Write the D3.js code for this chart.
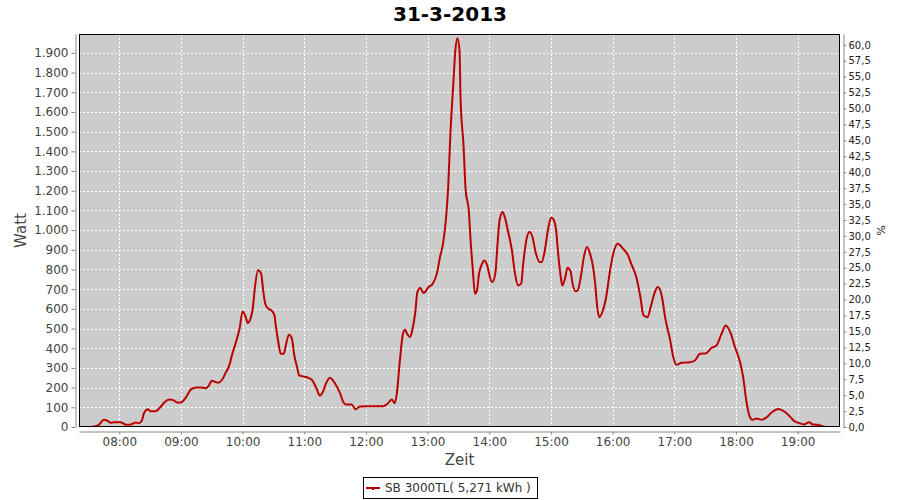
<!DOCTYPE html>
<html>
<head>
<meta charset="utf-8">
<script src="https://cdn.jsdelivr.net/npm/d3@7"></script>
<style>
  body { margin: 0; background: #fff; }
  text { font-family: "DejaVu Sans", sans-serif; }
</style>
</head>
<body>
<div id="chart"></div>
<script>
// chart texts
const title = "31-3-2013";
const legendLabel = "SB 3000TL( 5,271 kWh )";

// measured time (HH:MM) and power (W)
const times = ["07:33","07:40","07:45","07:48","07:52","07:54","08:01","08:04","08:07","08:10",
  "08:14","08:16","08:19","08:22","08:24","08:28","08:30","08:35","08:40","08:44",
  "08:49","08:53","08:56","09:00","09:05","09:10","09:15","09:19","09:24","09:27",
  "09:30","09:33","09:36","09:40","09:43","09:47","09:50","09:54","09:57","10:00",
  "10:03","10:05","10:07","10:10","10:12","10:15","10:18","10:20","10:22","10:25",
  "10:28","10:31","10:32","10:35","10:37","10:40","10:42","10:45","10:48","10:50",
  "10:53","10:55","10:59","11:04","11:08","11:12","11:15","11:18","11:21","11:25",
  "11:28","11:32","11:35","11:38","11:41","11:46","11:50","11:54","12:01","12:17",
  "12:21","12:25","12:28","12:30","12:33","12:36","12:38","12:40","12:43","12:45",
  "12:48","12:50","12:53","12:56","13:01","13:05","13:09","13:12","13:15","13:18",
  "13:20","13:22","13:25","13:27","13:29","13:31","13:32","13:35","13:37","13:40",
  "13:42","13:44","13:46","13:48","13:50","13:53","13:55","13:58","14:01","14:03",
  "14:06","14:08","14:10","14:13","14:15","14:18","14:22","14:25","14:28","14:31",
  "14:33","14:36","14:39","14:42","14:45","14:49","14:51","14:54","14:57","15:00",
  "15:02","15:05","15:07","15:10","15:11","15:14","15:16","15:19","15:21","15:24",
  "15:26","15:29","15:32","15:35","15:38","15:41","15:43","15:45","15:47","15:50",
  "15:54","15:57","16:01","16:05","16:10","16:15","16:18","16:23","16:27","16:30",
  "16:34","16:37","16:41","16:44","16:48","16:51","16:56","16:59","17:02","17:07",
  "17:15","17:20","17:25","17:31","17:36","17:41","17:46","17:50","17:55","17:59",
  "18:04","18:07","18:10","18:13","18:16","18:20","18:25","18:30","18:35","18:41",
  "18:48","18:53","18:57","19:02","19:06","19:11","19:15","19:20","19:24","19:27"];
const watts = [0,11,37,33,21,24,24,18,11,11,
  19,23,19,33,70,90,80,80,101,126,
  140,135,125,125,152,192,201,201,197,209,
  235,230,225,240,270,313,372,440,499,587,
  558,528,541,609,711,796,779,694,626,601,
  592,567,525,423,372,372,414,469,448,372,
  304,262,257,250,236,194,160,177,220,250,
  236,202,169,126,114,114,90,104,106,106,
  118,140,121,169,338,474,494,474,457,491,
  584,685,706,680,711,728,779,863,931,1067,
  1219,1473,1745,1914,1974,1914,1677,1422,1202,1101,
  931,796,677,694,779,830,846,821,753,736,
  787,931,1050,1092,1067,999,897,779,719,728,
  830,948,990,965,889,838,838,897,999,1063,
  1058,999,880,745,719,762,809,792,728,689,
  694,762,863,914,880,812,728,609,558,584,
  669,779,889,931,906,872,830,762,660,567,
  558,609,685,711,660,558,440,355,316,326,
  329,338,372,375,401,414,474,516,474,406,
  329,253,135,58,37,43,37,50,75,92,
  75,50,29,19,13,24,13,11,4,0];

// axis ticks
const hourTicks = ["08:00","09:00","10:00","11:00","12:00","13:00","14:00","15:00","16:00","17:00","18:00","19:00"];
const wattTicks = d3.range(0, 1901, 100);
const pctTicks = d3.range(0, 60.01, 2.5);

const toMin = s => { const p = s.split(":"); return +p[0] * 60 + +p[1]; };
const data = times.map((t, i) => ({m: toMin(t), w: watts[i]}));

const width = 900, height = 500;
const plot = {left: 79, right: 840, top: 34, bottom: 427};

const svg = d3.select("#chart").append("svg")
    .attr("width", width)
    .attr("height", height);

const loc = d3.formatLocale({decimal: ",", thousands: ".", grouping: [3], currency: ["", ""]});
const fmtW = loc.format(",d");
const fmtP = loc.format(".1f");

const x = d3.scaleLinear().domain([440.8, 1181.2]).range([plot.left, plot.right]);
const y = d3.scaleLinear().domain([0, 1996]).range([plot.bottom, plot.top]);
const yPct = d3.scaleLinear().domain([0, 61.7]).range([plot.bottom, plot.top]);

// title
svg.append("text")
    .attr("x", 450).attr("y", 21)
    .attr("text-anchor", "middle")
    .style("font-size", "20px").style("font-weight", "bold")
    .attr("fill", "#000")
    .text(title);

// plot background
svg.append("rect")
    .attr("x", plot.left).attr("y", plot.top)
    .attr("width", plot.right - plot.left).attr("height", plot.bottom - plot.top)
    .attr("fill", "#cccccc");

// grid
const grid = svg.append("g").attr("stroke", "#fff").attr("stroke-dasharray", "2,2").attr("shape-rendering", "crispEdges");
grid.selectAll(".gx").data(hourTicks).enter().append("line")
    .attr("x1", d => Math.round(x(toMin(d))) + 0.5).attr("x2", d => Math.round(x(toMin(d))) + 0.5)
    .attr("y1", plot.top).attr("y2", plot.bottom);
grid.selectAll(".gy").data(wattTicks.slice(1)).enter().append("line")
    .attr("y1", d => Math.round(y(d)) + 0.5).attr("y2", d => Math.round(y(d)) + 0.5)
    .attr("x1", plot.left).attr("x2", plot.right);

// series line
svg.append("defs").append("clipPath").attr("id", "clip")
  .append("rect")
    .attr("x", plot.left).attr("y", plot.top)
    .attr("width", plot.right - plot.left).attr("height", plot.bottom - plot.top);

const line = d3.line()
    .x(d => x(d.m))
    .y(d => y(d.w))
    .curve(d3.curveMonotoneX);

svg.append("path")
    .datum(data)
    .attr("clip-path", "url(#clip)")
    .attr("fill", "none")
    .attr("stroke", "#bb0000")
    .attr("stroke-width", 2)
    .attr("stroke-linejoin", "round")
    .attr("d", line);

// plot border
svg.append("rect")
    .attr("x", plot.left + 0.5).attr("y", plot.top + 0.5)
    .attr("width", plot.right - plot.left - 1).attr("height", plot.bottom - plot.top - 1)
    .attr("fill", "none").attr("stroke", "#000");

// axes
function styleAxis(g, size, color) {
    g.attr("font-family", null).attr("font-size", null);
    g.select(".domain").attr("stroke", "#888");
    g.selectAll(".tick line").attr("stroke", "#888");
    g.selectAll(".tick text").style("font-size", size + "px").attr("fill", color);
}

svg.append("g")
    .attr("transform", "translate(75.5,0)")
    .call(d3.axisLeft(y).tickValues(wattTicks).tickFormat(fmtW).tickSize(4).tickSizeOuter(0).tickPadding(3))
    .call(g => styleAxis(g, 12, "#444"));

svg.append("g")
    .attr("transform", "translate(0,431.5)")
    .call(d3.axisBottom(x).tickValues(hourTicks.map(toMin)).tickFormat((d, i) => hourTicks[i]).tickSize(3).tickSizeOuter(0).tickPadding(3))
    .call(g => styleAxis(g, 12, "#444"));

svg.append("g")
    .attr("transform", "translate(843.5,0)")
    .call(d3.axisRight(yPct).tickValues(pctTicks).tickFormat(fmtP).tickSize(3).tickSizeOuter(0).tickPadding(2))
    .call(g => styleAxis(g, 10, "#222"));

// axis labels
svg.append("text")
    .attr("transform", "translate(26,230.5) rotate(-90)")
    .attr("text-anchor", "middle")
    .style("font-size", "15px")
    .attr("fill", "#444")
    .text("Watt");

svg.append("text")
    .attr("x", (plot.left + plot.right) / 2).attr("y", 465)
    .attr("text-anchor", "middle")
    .style("font-size", "15px")
    .attr("fill", "#444")
    .text("Zeit");

svg.append("text")
    .attr("transform", "translate(877,230.5) rotate(90)")
    .attr("text-anchor", "middle")
    .style("font-size", "11px")
    .attr("fill", "#222")
    .text("%");

// legend
const lg = svg.append("g");
lg.append("rect")
    .attr("x", 363.5).attr("y", 477.5).attr("width", 174).attr("height", 21)
    .attr("fill", "#fff").attr("stroke", "#000");
lg.append("line")
    .attr("x1", 366).attr("x2", 380).attr("y1", 488).attr("y2", 488)
    .attr("stroke", "#bb0000").attr("stroke-width", 2);
lg.append("path")
    .attr("d", "M371,488L375,488L373,490Z")
    .attr("fill", "#bb0000").attr("stroke", "#bb0000");
lg.append("text")
    .attr("x", 385).attr("y", 492)
    .style("font-size", "12px")
    .attr("fill", "#333")
    .text(legendLabel);
</script>
</body>
</html>
